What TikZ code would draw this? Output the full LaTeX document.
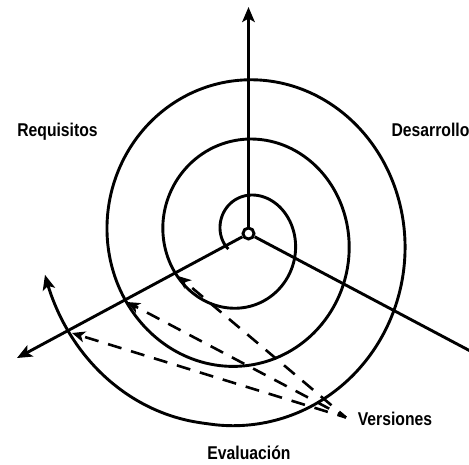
\documentclass[tikz,border=0pt]{standalone}
\usepackage{fontspec}
\newfontfamily\lblfont{Liberation Sans}[FakeStretch=0.85]
\usetikzlibrary{arrows.meta}
\begin{document}
\begin{tikzpicture}[x=1pt,y=-1pt,
  ln/.style={line width=2.9pt},
  tipstyle/.style={-{Stealth[length=15pt,width=12.5pt,inset=3.5pt]}},
  dsh/.style={line width=2.6pt, dash pattern=on 14pt off 10pt, dash phase=5pt,
              -{Stealth[length=13pt,width=11pt,inset=3.5pt]}},
  lbl/.style={font=\lblfont\bfseries\fontsize{18.5}{20}\selectfont, anchor=base, inner sep=0pt},
  declare function={sr(\p)=18.4+0.1556*\p+0.16*max(0,\p-1030); sw(\p)=max(0,1-\p/400);}]
\useasboundingbox (0,0) rectangle (469,464);
% centre
\node[circle, draw, ln, fill=white, minimum size=11pt, inner sep=0pt] (c) at (248.5,233.5) {};
\coordinate (topend) at (248.5,7);
\coordinate (leftend) at (17,358);
\coordinate (rightend) at (475,353.5);
\draw[ln, tipstyle] (c) -- (topend);
\draw[ln, tipstyle] (c) -- (leftend);
\draw[ln] (c) -- (rightend);
% spiral
\draw[ln, tipstyle] plot[domain=0:1098, samples=400, variable=\p, smooth]
  ({242.05+3.5*sw(\p)+(sr(\p)+sw(\p))*cos(208-\p)},
   {237.9-1.061*(sr(\p)+4*sw(\p))*sin(208-\p)});
% versions
\coordinate (V) at (346,417.5);
\coordinate (A1) at (178,276);
\coordinate (A2) at (127,302);
\coordinate (A3) at (72,333);
\draw[dsh] (V) -- (A1);
\draw[dsh] (V) -- (A2);
\draw[dsh] (V) -- (A3);
% labels
\node[lbl] (req) at (57.5,136) {Requisitos};
\node[lbl] (des) at (430.5,136.5) {Desarrollo};
\node[lbl] (ver) at (395,425) {Versiones};
\node[lbl] (eva) at (249,459) {Evaluación};
\end{tikzpicture}
\end{document}
